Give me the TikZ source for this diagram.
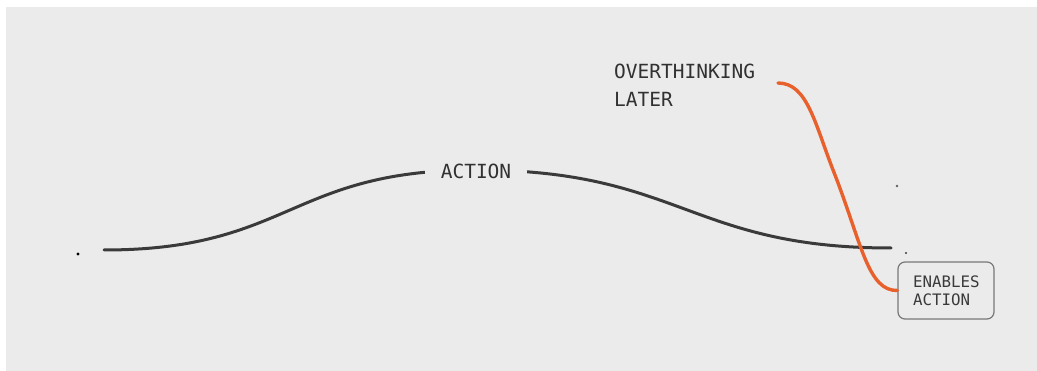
\documentclass[tikz,border=0pt]{standalone}
\usepackage{fontspec}
\setmonofont{DejaVu Sans Mono}
\usepackage{tikz}
\usetikzlibrary{backgrounds}

\definecolor{paper}{RGB}{235,235,235}
\definecolor{ink}{RGB}{58,58,58}
\definecolor{flame}{RGB}{232,96,44}
\definecolor{rim}{RGB}{120,120,120}

\begin{document}
\begin{tikzpicture}[x=1pt, y=-1pt,
  wave/.style={ink, line width=3pt, line cap=round},
  hook/.style={flame, line width=3.4pt, line cap=round},
  label/.style={font=\ttfamily\fontsize{19.5}{28}\selectfont, text=ink!85!black, inner sep=0pt},
  tag/.style={draw=rim, line width=1.2pt, rounded corners=7pt, align=left,
    text width=66pt, inner xsep=15pt, minimum height=57pt,
    font=\ttfamily\fontsize{15.8}{18}\selectfont, text=ink}]

% Drawing window
\useasboundingbox (0,0) rectangle (1037,371);
\fill[white] (0,0) rectangle (1037,371);
\fill[paper] (6,7) rectangle (1037,371);

% Small marks
\fill[black] (78,254) circle (1.6);
\fill[ink] (906,253) circle (1.1);
\fill[ink!80] (897,186) circle (1.3);

% The bump
\draw[wave] (104,250) .. controls (290,250) and (290,170) .. (476,170)
  .. controls (680,170) and (690,248) .. (891,248);
\node[label, fill=paper, inner xsep=16pt, inner ysep=4pt] (act) at (476,171.5) {ACTION};

% Notes
\node[label, anchor=north west, align=left] (late) at (614,64) {OVERTHINKING\\LATER};
\node[tag] (enab) at (946,290.5) {ENABLES\\ACTION};
\coordinate (hk) at (778,83);

% Orange link
\draw[hook] (hk) .. controls (808,83) and (815,125) .. (835,175)
  .. controls (862,245) and (868,291) .. (enab.west);

\end{tikzpicture}
\end{document}
